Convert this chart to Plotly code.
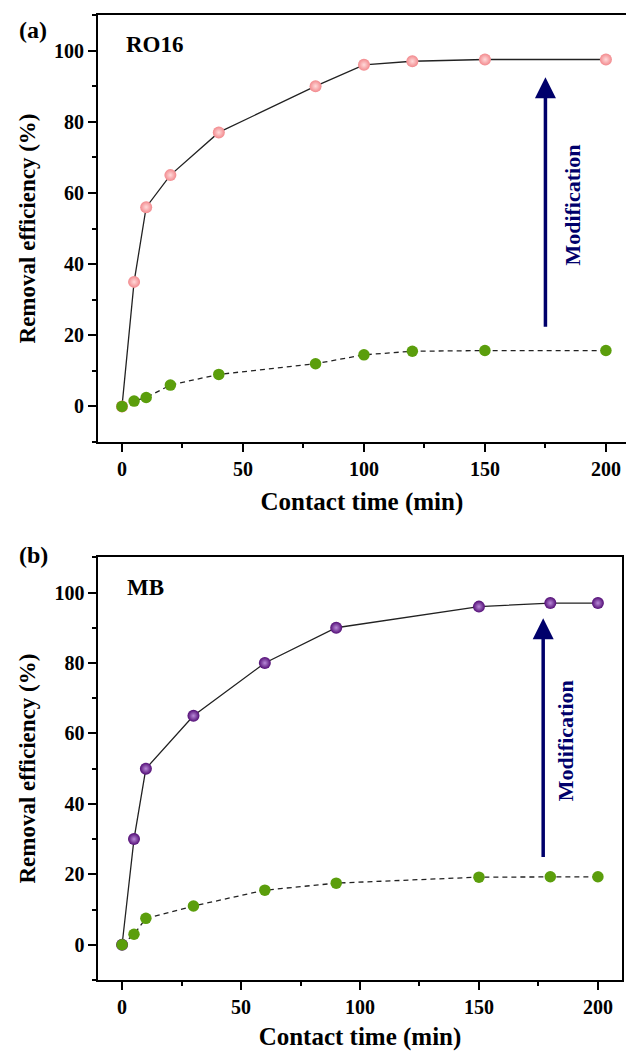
import plotly.graph_objects as go

# ---------------- data ----------------
time_a = [0, 5, 10, 20, 40, 80, 100, 120, 150, 200]
ro16_modified = [0, 35, 56, 65, 77, 90, 96, 97, 97.5, 97.5]
ro16_raw = [0, 1.5, 2.5, 6, 9, 12, 14.5, 15.5, 15.7, 15.7]

time_b = [0, 5, 10, 30, 60, 90, 150, 180, 200]
mb_modified = [0, 30, 50, 65, 80, 90, 96, 97, 97]
mb_raw = [0, 3, 7.5, 11, 15.5, 17.5, 19.2, 19.3, 19.3]

x_ticks = [0, 50, 100, 150, 200]
y_ticks = [0, 20, 40, 60, 80, 100]

W, H = 626, 1051
FONT = "Liberation Serif"
NAVY = "#00006B"


def fx(p):
    return p / W


def fy(p):
    return 1 - p / H


fig = go.Figure()


def add_pair(xv, top, bottom, xa, ya, top_edge, top_center):
    fig.add_trace(go.Scatter(
        x=xv, y=top, xaxis=xa, yaxis=ya, mode="lines+markers",
        line=dict(color="#222222", width=1.3),
        marker=dict(size=12, color=top_edge,
                    gradient=dict(type="radial", color=top_center),
                    line=dict(width=0)),
        showlegend=False))
    fig.add_trace(go.Scatter(
        x=xv, y=bottom, xaxis=xa, yaxis=ya, mode="lines+markers",
        line=dict(color="#222222", width=1.3, dash="5px,4px"),
        marker=dict(size=11.5, color="#5B9E0C", line=dict(width=0)),
        showlegend=False))


add_pair(time_a, ro16_modified, ro16_raw, "x", "y", "#F2898D", "#FFDADA")
add_pair(time_b, mb_modified, mb_raw, "x2", "y2", "#520C75", "#B98AD8")

tickfont = dict(family=FONT, size=20, color="black", weight="bold")
xtitlefont = dict(family=FONT, size=25, color="black", weight="bold")
ytitlefont = dict(family=FONT, size=23, color="black", weight="bold")


def xaxis(domain, rng, anchor):
    return dict(domain=domain, range=rng, anchor=anchor,
                tickvals=x_ticks, ticks="outside", ticklen=8, tickwidth=1.6,
                tickcolor="black", showline=True, linecolor="black",
                linewidth=1.7, mirror=True, showgrid=False, zeroline=False,
                tickfont=tickfont,
                minor=dict(ticks="outside", ticklen=4, tickwidth=1.5,
                           tickcolor="black", dtick=25, tick0=0, showgrid=False),
                title=dict(text="Contact time (min)", font=xtitlefont, standoff=14))


def yaxis(domain, anchor, mirror):
    return dict(domain=domain, range=[-10, 110], anchor=anchor,
                tickvals=y_ticks, ticks="outside", ticklen=8, tickwidth=1.6,
                tickcolor="black", showline=True, linecolor="black",
                linewidth=1.7, mirror=mirror, showgrid=False, zeroline=False,
                tickfont=tickfont,
                minor=dict(ticks="outside", ticklen=4, tickwidth=1.5,
                           tickcolor="black", dtick=10, tick0=0, showgrid=False),
                title=dict(text="Removal efficiency (%)", font=ytitlefont, standoff=12))


fig.update_layout(
    width=W, height=H,
    margin=dict(l=0, r=0, t=0, b=0),
    paper_bgcolor="white", plot_bgcolor="white",
    xaxis=xaxis([fx(97.8), 1.0], [-10, 208.3], "y"),
    yaxis=yaxis([fy(442), fy(15)], "x", False),
    xaxis2=xaxis([fx(98.3), fx(621.7)], [-10, 210], "y2"),
    yaxis2=yaxis([fy(980), fy(557.3)], "x2", True),
)

ann = []
lab = dict(family=FONT, size=24, color="black", weight="bold")
# panel labels
ann.append(dict(text="(a)", x=fx(33), y=fy(30), xref="paper", yref="paper",
                xanchor="center", yanchor="middle", showarrow=False, font=lab))
ann.append(dict(text="(b)", x=fx(33), y=fy(555), xref="paper", yref="paper",
                xanchor="center", yanchor="middle", showarrow=False, font=lab))
ann.append(dict(text="RO16", x=fx(124), y=fy(44), xref="paper", yref="paper",
                xanchor="left", yanchor="middle", showarrow=False,
                font=dict(family=FONT, size=23, color="black", weight="bold")))
ann.append(dict(text="MB", x=fx(125), y=fy(587), xref="paper", yref="paper",
                xanchor="left", yanchor="middle", showarrow=False,
                font=dict(family=FONT, size=23, color="black", weight="bold")))

# arrows
for xa, ya, xpos, y0, y1 in [("x", "y", 175, 22, 92.5), ("x2", "y2", 177, 24.5, 92.7)]:
    ann.append(dict(x=xpos, y=y1, ax=xpos, ay=y0, xref=xa, yref=ya,
                    axref=xa, ayref=ya, text="", showarrow=True,
                    arrowhead=2, arrowsize=1.2, arrowwidth=3.5, arrowcolor=NAVY))

# Modification labels
for xa, ya, xpos, ypos in [("x", "y", 185.8, 56.6), ("x2", "y2", 186.5, 58)]:
    ann.append(dict(text="Modification", x=xpos, y=ypos, xref=xa, yref=ya,
                    xanchor="center", yanchor="middle",
                    textangle=-90, showarrow=False,
                    font=dict(family=FONT, size=22, color=NAVY, weight="bold")))

fig.update_layout(annotations=ann)

fig.write_html("out.html", config={"displayModeBar": False},
               post_script="document.body.style.margin='0px';")
